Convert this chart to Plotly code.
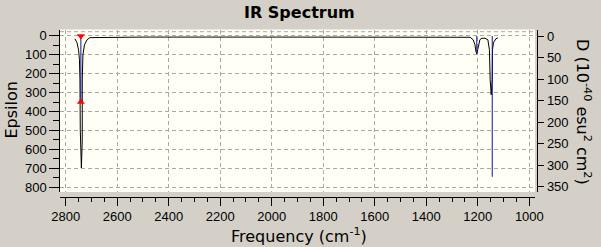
import plotly.graph_objects as go

W, H = 601, 247

# ---- data ----
# broadened IR curve (frequency in cm-1, epsilon)
curve_freq = [2764, 2756, 2750, 2746.5, 2744.5, 2743.3, 2739, 2735.6, 2735.6, 2733, 2727, 2717, 2706,
              2500, 2000, 1500, 1230, 1218, 1211, 1207, 1204, 1200.5, 1197.5, 1192, 1184, 1172,
              1161, 1155, 1152, 1148, 1144, 1143, 1139.3, 1130, 1122]
curve_eps = [16, 37, 74, 127, 233, 497, 698, 550, 233, 100, 48, 21, 10,
             7, 7, 7, 8, 21, 48, 85, 95, 74, 48, 21, 13, 13,
             21, 74, 233, 312, 233, 74, 37, 16, 11]

# dipole strength sticks (frequency, D in 1e-40 esu^2 cm^2)
stick_freq = [2741, 1204, 1144]
stick_D = [153, 42, 327]

# selected stick (marked with red triangles)
sel_index = 0

x_ticks = [2800, 2600, 2400, 2200, 2000, 1800, 1600, 1400, 1200, 1000]
eps_ticks = [0, 100, 200, 300, 400, 500, 600, 700, 800]
d_ticks = [0, 50, 100, 150, 200, 250, 300, 350]

# ---- layout geometry (pixels) ----
px_l, px_r, px_t, px_b = 60, 535, 29.5, 192
xaxis_line_y = 196.7
y2_line_x = 537.3

fx = lambda p: p / W
fy = lambda p: 1 - p / H

sx, sy = [], []
for f, d in zip(stick_freq, stick_D):
    sx += [f, f, None]
    sy += [0, d, None]

fig = go.Figure()
fig.add_trace(go.Scatter(x=curve_freq, y=curve_eps, mode="lines",
                         line=dict(color="black", width=1), yaxis="y", hoverinfo="skip"))
fig.add_trace(go.Scatter(x=sx, y=sy, mode="lines",
                         line=dict(color="rgb(20,20,150)", width=1), yaxis="y2", hoverinfo="skip"))
fig.add_trace(go.Scatter(x=[stick_freq[sel_index]], y=[0], mode="markers", yaxis="y2",
                         marker=dict(symbol="triangle-down", color="red", size=7, line=dict(width=0))))
fig.add_trace(go.Scatter(x=[stick_freq[sel_index]], y=[stick_D[sel_index]], mode="markers", yaxis="y2",
                         marker=dict(symbol="triangle-up", color="red", size=7, line=dict(width=0))))

tick_font = dict(family="Liberation Sans Narrow, Arial Narrow, Liberation Sans, Arial", size=13, color="black")
grid_col = "#A9A9A9"

fig.update_layout(
    width=W, height=H,
    margin=dict(l=0, r=0, t=0, b=0),
    paper_bgcolor="#D4D0C8",
    plot_bgcolor="#FFFFF6",
    showlegend=False,
    xaxis=dict(
        domain=[fx(px_l), fx(px_r)],
        range=[2822, 978],
        anchor="free", position=fy(xaxis_line_y),
        tickvals=x_ticks, ticks="outside", ticklen=8, tickcolor="black", tickwidth=1,
        showline=True, linecolor="black", linewidth=1,
        showgrid=True, gridcolor=grid_col, griddash="4px,3px", gridwidth=1,
        zeroline=False, tickfont=tick_font, automargin=False,
        minor=dict(dtick=50, tick0=1000, ticks="outside", ticklen=4, tickcolor="black", showgrid=False),
    ),
    yaxis=dict(
        domain=[fy(px_b), fy(px_t)],
        range=[825, -33],
        anchor="free", position=fx(59.3),
        tickvals=eps_ticks, ticks="outside", ticklen=10, tickcolor="black",
        showline=True, linecolor="black", linewidth=1,
        showgrid=True, gridcolor=grid_col, griddash="4px,3px", gridwidth=1,
        zeroline=False, tickfont=tick_font, automargin=False,
        minor=dict(dtick=50, tick0=0, ticks="outside", ticklen=6, tickcolor="black", showgrid=False),
    ),
    yaxis2=dict(
        overlaying="y", side="right",
        range=[362.3, -15.1],
        anchor="free", position=fx(y2_line_x),
        tickvals=d_ticks, ticks="outside", ticklen=6, tickcolor="black",
        showline=True, linecolor="black", linewidth=1,
        showgrid=False, zeroline=False, tickfont=tick_font, automargin=False,
    ),
    shapes=[dict(type="line", xref="paper", yref="paper", x0=fx(px_l), x1=fx(px_r),
                 y0=fy(31.7), y1=fy(31.7), line=dict(color=grid_col, width=1, dash="4px,3px"),
                 layer="below")],
    annotations=[
        dict(text="<b>IR Spectrum</b>", x=fx(299), y=fy(12.5), xref="paper", yref="paper",
             showarrow=False, xanchor="center", yanchor="middle",
             font=dict(family="DejaVu Sans", size=16, color="black")),
        dict(text="Frequency (cm<sup>-1</sup>)", x=fx(299), y=fy(235), xref="paper", yref="paper",
             showarrow=False, xanchor="center", yanchor="middle",
             font=dict(family="DejaVu Sans", size=16, color="black")),
        dict(text="Epsilon", x=fx(11), y=fy(110.5), xref="paper", yref="paper", textangle=-90,
             showarrow=False, xanchor="center", yanchor="middle",
             font=dict(family="DejaVu Sans", size=16, color="black")),
        dict(text="D (10<sup>-40</sup> esu<sup>2</sup> cm<sup>2</sup>)", x=fx(584), y=fy(112),
             xref="paper", yref="paper", textangle=90,
             showarrow=False, xanchor="center", yanchor="middle",
             font=dict(family="DejaVu Sans", size=16, color="black")),
    ],
)

fig.write_html("out.html")
